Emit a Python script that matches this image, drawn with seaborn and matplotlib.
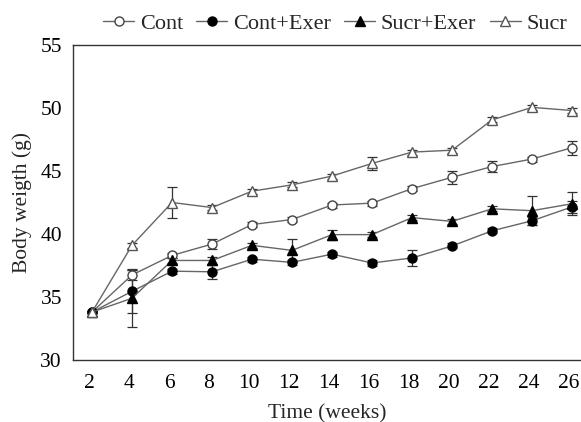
import numpy as np
import pandas as pd
import matplotlib
matplotlib.use('Agg')
import matplotlib.pyplot as plt
import matplotlib.transforms as mtransforms
import seaborn as sns

# data
weeks = [2, 4, 6, 8, 10, 12, 14, 16, 18, 20, 22, 24, 26]
cont = [33.8, 36.75, 38.3, 39.2, 40.75, 41.15, 42.3, 42.45, 43.6, 44.5, 45.35, 45.95, 46.85]
cont_exer = [33.8, 35.45, 37.05, 37.0, 38.0, 37.75, 38.4, 37.7, 38.1, 39.05, 40.25, 41.05, 42.15]
sucr_exer = [33.8, 34.9, 37.9, 37.9, 39.1, 38.7, 39.95, 39.95, 41.3, 41.0, 42.0, 41.85, 42.4]
sucr = [33.8, 39.1, 42.5, 42.1, 43.4, 43.9, 44.6, 45.6, 46.5, 46.65, 49.05, 50.05, 49.8]

cont_err = [0.1, 0.4, 0.2, 0.4, 0.2, 0.2, 0.2, 0.2, 0.2, 0.5, 0.45, 0.2, 0.55]
cont_exer_err = [0.1, 1.7, 0.2, 0.55, 0.2, 0.2, 0.2, 0.2, 0.6, 0.2, 0.2, 0.3, 0.5]
sucr_exer_err = [0.1, 2.3, 0.2, 0.3, 0.2, 0.9, 0.4, 0.2, 0.2, 0.2, 0.2, 1.15, 0.9]
sucr_err = [0.1, 0.2, 1.25, 0.2, 0.2, 0.2, 0.2, 0.55, 0.2, 0.2, 0.2, 0.2, 0.2]

groups = ['Cont', 'Cont+Exer', 'Sucr+Exer', 'Sucr']
means = [cont, cont_exer, sucr_exer, sucr]
errs = [cont_err, cont_exer_err, sucr_exer_err, sucr_err]
markers = ['o', 'o', '^', '^']
faces = ['white', 'black', 'black', 'white']
edges = ['#444444', 'black', 'black', '#555555']
sizes = [6.5, 6.5, 6.5, 7]

df = pd.DataFrame({
    'week': weeks * 4,
    'weight': sum(means, []),
    'err': sum(errs, []),
    'group': np.repeat(groups, len(weeks)),
})

sns.set_theme(style='white')
plt.rcParams['font.family'] = ['Liberation Serif', 'DejaVu Serif']

fig = plt.figure(figsize=(5.81, 4.22), dpi=100)
ax = fig.add_axes([73 / 581, 62 / 422, 1 - 73 / 581, (360 - 45) / 422])

line_col = '#666666'
for g, m, fc, ec, ms in zip(groups, markers, faces, edges, sizes):
    d = df[df['group'] == g]
    ax.errorbar(d['week'], d['weight'], yerr=d['err'], fmt='none',
                ecolor='#333333', elinewidth=0.9, capsize=3.5, capthick=0.9, zorder=2)
    sns.lineplot(data=d, x='week', y='weight', ax=ax, color=line_col, linewidth=1.0,
                 marker=m, markersize=ms, markerfacecolor=fc, markeredgecolor=ec,
                 markeredgewidth=1.0, label=g, zorder=3)

ax.set_xlim(1.05, 26.45)
ax.set_ylim(30, 55)
ax.set_xticks(weeks)
ax.set_yticks([30, 35, 40, 45, 50, 55])
ax.tick_params(direction='in', length=5.5, width=0.9, color='#333333',
               labelsize=15.5, colors='black')
ax.tick_params(axis='y', pad=8)
ax.tick_params(axis='x', pad=10)
# x tick labels sit a little left of their ticks in the original
shift = mtransforms.ScaledTranslation(-3 / 100, 0, fig.dpi_scale_trans)
for lab in ax.get_xticklabels():
    lab.set_transform(lab.get_transform() + shift)
for s in ['left', 'bottom', 'top']:
    ax.spines[s].set_color('#333333')
    ax.spines[s].set_linewidth(1.0)
ax.spines['right'].set_visible(False)

ax.set_xlabel('Time (weeks)', fontsize=15.5, labelpad=8)
ax.set_ylabel('Body weigth (g)', fontsize=15.5, labelpad=6)

handles, labels = ax.get_legend_handles_labels()
ax.get_legend().remove()
fig.legend(handles, labels, loc='center', bbox_to_anchor=(335 / 581, 1 - 24 / 422),
           ncol=4, frameon=False, fontsize=16, handlelength=1.4, handletextpad=0.25,
           columnspacing=0.6, borderpad=0, numpoints=1)

fig.savefig('out.png', dpi=100)
